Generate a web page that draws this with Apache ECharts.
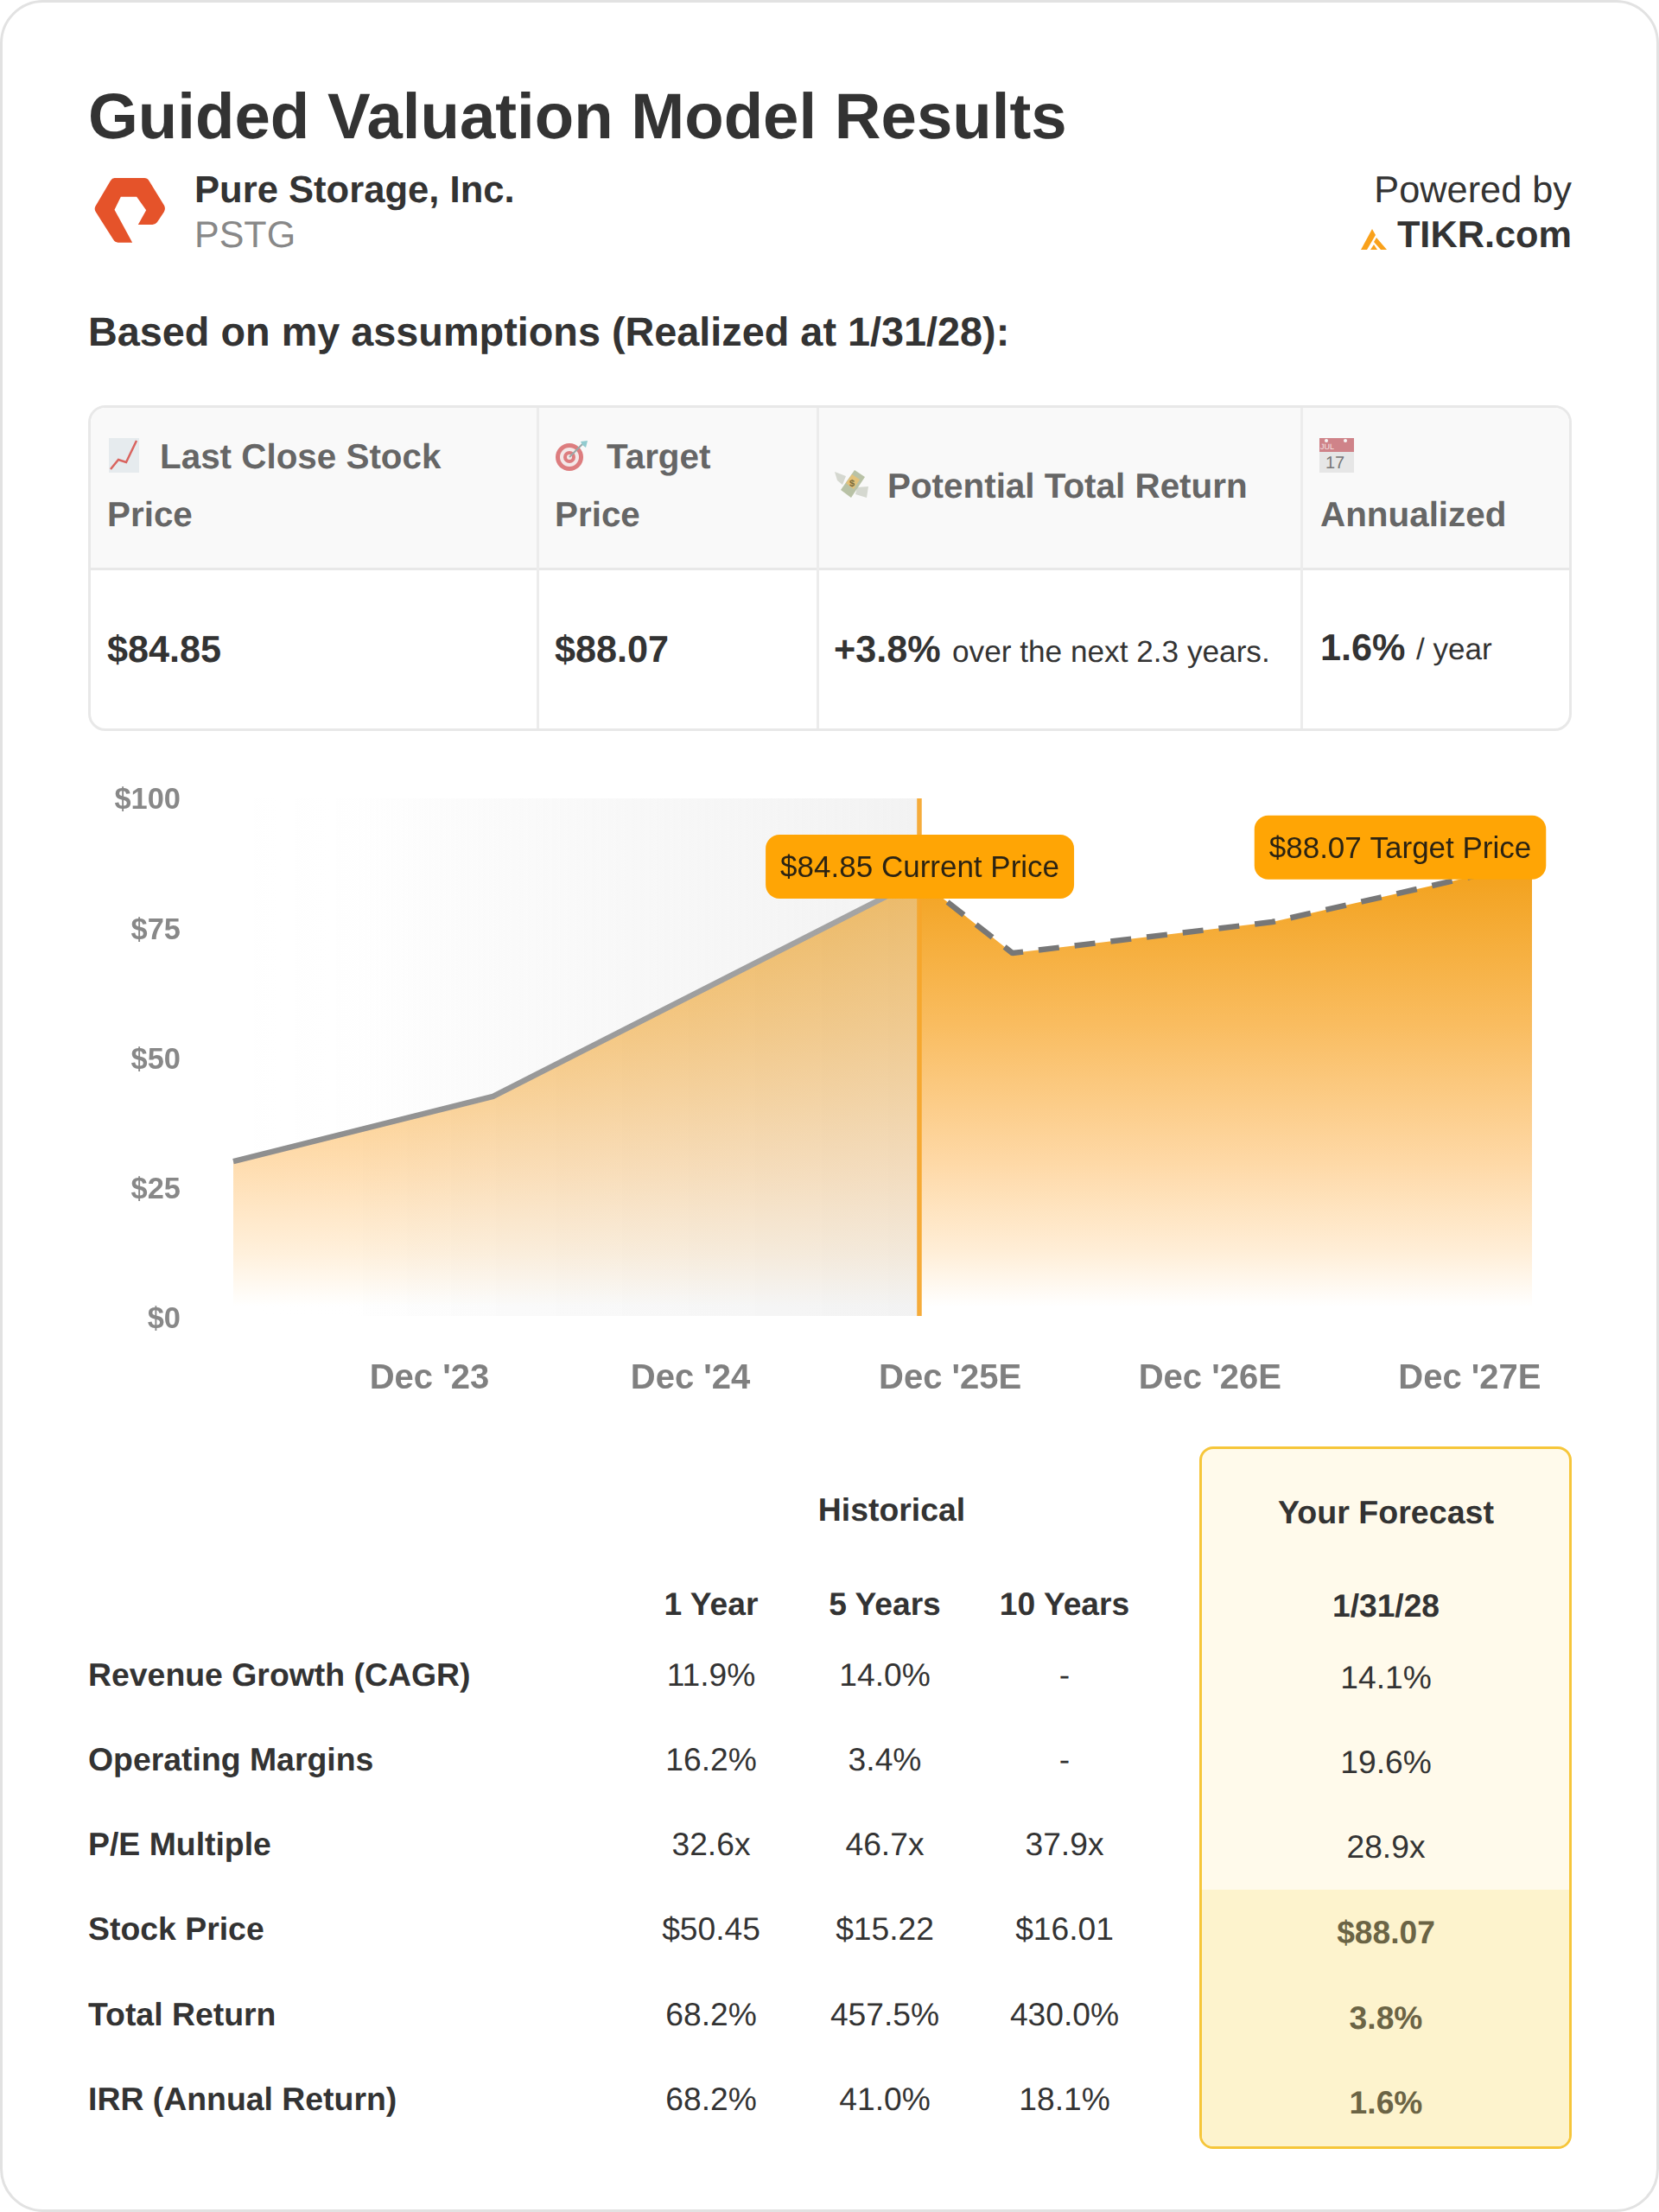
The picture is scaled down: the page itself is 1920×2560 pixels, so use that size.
<!DOCTYPE html>
<html>
<head>
<meta charset="utf-8">
<title>Guided Valuation Model Results</title>
<script src="https://cdn.jsdelivr.net/npm/echarts@6/dist/echarts.min.js"></script>
<style>
  html, body { margin: 0; padding: 0; background: #fff; }
  #page { position: relative; width: 1920px; height: 2560px; overflow: hidden;
          font-family: "Liberation Sans", Arial, sans-serif; color: #333;
          text-rendering: geometricPrecision; }
  #frame { position: absolute; left: 0; top: 0; width: 1914px; height: 2554px;
           border: 3px solid #e2e2e2; border-radius: 50px; }
  #main { position: absolute; left: 0; top: 900px; width: 1920px; height: 740px; }
  .t { position: absolute; white-space: nowrap; transform: translateY(-50%); }
  .c { transform: translate(-50%, -50%); }
  .r { transform: translate(-100%, -50%); }
  .b { font-weight: bold; }
  .box { position: absolute; box-sizing: border-box; }
  svg { position: absolute; display: block; }
</style>
</head>
<body>
<div id="page">
  <div id="frame"></div>

  <!-- summary table frame -->
  <div class="box" style="left:102px;top:469px;width:1717px;height:377px;border:3px solid #e8e8e8;border-radius:20px;overflow:hidden;">
    <div style="height:185px;background:#f9f9f9;border-bottom:3px solid #e8e8e8;"></div>
    <div class="box" style="left:516px;top:0;width:3px;height:100%;background:#ececec;"></div>
    <div class="box" style="left:840px;top:0;width:3px;height:100%;background:#ececec;"></div>
    <div class="box" style="left:1400px;top:0;width:3px;height:100%;background:#ececec;"></div>
  </div>

  <!-- forecast column -->
  <div class="box" style="left:1388px;top:1674px;width:431px;height:813px;border:3px solid #f6c63a;border-radius:16px;overflow:hidden;background:#fffaeb;">
    <div class="box" style="left:0;right:0;bottom:0;height:297px;background:#fdf3cd;"></div>
  </div>

  <!-- company logo -->
  <svg style="left:109px;top:206px" width="83" height="75" viewBox="58 78 248 225">
    <path fill="#e5532a" d="M128 78 H232 Q242 78 248 88 L301 174 Q306 185 300 196 L276 232 Q270 240 260 240 H210 L238 190 L205 143 H150 L128 188 L190 302 H140 Q130 302 124 292 L63 196 Q56 185 63 174 L114 88 Q120 78 128 78 Z"/>
  </svg>
  <!-- TIKR mark -->
  <svg style="left:1575px;top:265px" width="30" height="24" viewBox="0 0 30 24">
    <path fill="#f9a11b" d="M0 24 L13 0 L17 7 L7 24 Z M18 10 L30 24 H23 L15 15 Z M11 24 L15 18 L19 24 Z"/>
  </svg>

  <!-- header cell icons, drawn because no emoji font is installed -->
  <svg style="left:126px;top:507px" width="35" height="40" viewBox="0 0 35 40">
    <rect width="35" height="40" fill="#e6ebee"/>
    <polyline points="2,36 11,25 20,28 32,3" fill="none" stroke="#d9645f" stroke-width="2.5"/>
  </svg>
  <svg style="left:642px;top:508px;opacity:.85" width="40" height="38" viewBox="0 0 40 38">
    <circle cx="17" cy="21" r="16" fill="#d9686a"/><circle cx="17" cy="21" r="11" fill="#f3e6e6"/>
    <circle cx="17" cy="21" r="7" fill="#d9686a"/><circle cx="17" cy="21" r="3" fill="#f3e6e6"/>
    <path d="M17 21 L32 6" stroke="#8a9a9a" stroke-width="2"/><path d="M30 3 L38 2 L36 10 L32 7 Z" fill="#7fc4c8"/>
  </svg>
  <svg style="left:966px;top:543px" width="39" height="35" viewBox="0 0 39 35">
    <path d="M0 3 L13 8 L9 18 L3 13 Z M26 21 L39 20 L37 33 L24 29 Z" fill="#d5d8d0"/>
    <path d="M7 24 L23 1 L35 9 L19 33 Z" fill="#b9c2a6"/>
    <path d="M13 16 L20 6 L29 12 L22 23 Z" fill="#e3c27a"/>
    <text x="17" y="20" font-size="11" font-weight="bold" fill="#7a6a3a">$</text>
  </svg>
  <svg style="left:1527px;top:507px" width="40" height="40" viewBox="0 0 40 40">
    <rect width="40" height="40" fill="#e6e6e6"/><rect width="40" height="16" fill="#cf8389"/>
    <text x="1" y="13" font-size="9" fill="#f5e6e6">JUL</text>
    <circle cx="8" cy="3" r="2" fill="#f5f5f5"/><circle cx="30" cy="3" r="2" fill="#f5f5f5"/>
    <text x="7" y="35" font-size="20" fill="#777">17</text>
  </svg>

  <div id="main"></div>
  <div id="texts"></div>
</div>

<script type="text/javascript">
// chart data, x is a decimal year
var histX = [2023.08, 2024.08, 2025.72];
var histY = [30.6, 43.1, 84.85];
var fcstX = [2025.72, 2026.08, 2027.08, 2028.08];
var fcstY = [84.85, 70.7, 76.7, 88.07];
var yTicks = [0, 25, 50, 75, 100];
var xTicks = [2023.835, 2024.84, 2025.84, 2026.84, 2027.84];
var xTickLabels = ["Dec '23", "Dec '24", "Dec '25E", "Dec '26E", "Dec '27E"];
var currentLabel = '$84.85 Current Price';
var targetLabel = '$88.07 Target Price';

// table data
var rowNames = ['Revenue Growth (CAGR)', 'Operating Margins', 'P/E Multiple', 'Stock Price', 'Total Return', 'IRR (Annual Return)'];
var histCols = ['1 Year', '5 Years', '10 Years'];
var hist1y = ['11.9%', '16.2%', '32.6x', '$50.45', '68.2%', '68.2%'];
var hist5y = ['14.0%', '3.4%', '46.7x', '$15.22', '457.5%', '41.0%'];
var hist10y = ['-', '-', '37.9x', '$16.01', '430.0%', '18.1%'];
var forecast = ['14.1%', '19.6%', '28.9x', '$88.07', '3.8%', '1.6%'];

var box = document.getElementById('texts');
function put(text, x, y, size, cls, color) {
    var d = document.createElement('div');
    d.className = 't ' + (cls || '');
    d.style.left = x + 'px';
    d.style.top = y + 'px';
    d.style.fontSize = size + 'px';
    if (color) d.style.color = color;
    d.textContent = text;
    box.appendChild(d);
    return d;
}

put('Guided Valuation Model Results', 102, 134, 74.4, 'b');
put('Pure Storage, Inc.', 225, 220, 43.6, 'b');
put('PSTG', 225, 272, 43, '', '#888');
put('Powered by', 1819, 220, 43.3, 'r');
put('TIKR.com', 1819, 272, 43.3, 'r b');
put('Based on my assumptions (Realized at 1/31/28):', 102, 384, 46.8, 'b');

// summary table
put('Last Close Stock', 185, 528, 40.4, 'b', '#666');
put('Price', 124, 595, 40.4, 'b', '#666');
put('Target', 702, 528, 40.4, 'b', '#666');
put('Price', 642, 595, 40.4, 'b', '#666');
put('Potential Total Return', 1027, 562, 40.4, 'b', '#666');
put('Annualized', 1528, 595, 40.4, 'b', '#666');
put('$84.85', 124, 752, 43.2, 'b');
put('$88.07', 642, 752, 43.2, 'b');
put('+3.8%', 965, 752, 43.2, 'b');
put('over the next 2.3 years.', 1102, 755, 35.2);
put('1.6%', 1528, 750, 43.2, 'b');
put('/ year', 1639, 752, 35);

// model table
var colX = [823, 1024, 1232];
var rowY = [1938, 2036, 2134, 2232, 2331, 2429];
var fcstRowY = [1940.5, 2038.5, 2136.5, 2235.5, 2334.5, 2432.5];
var i;
put('Historical', 1032, 1746.5, 37.4, 'c b');
put('Your Forecast', 1604, 1750, 37.6, 'c b');
put('1/31/28', 1604, 1857.5, 37.2, 'c b');
for (i = 0; i < histCols.length; i++) put(histCols[i], colX[i], 1855.5, 37.2, 'c b');
for (i = 0; i < rowNames.length; i++) {
    put(rowNames[i], 102, rowY[i], 37.4, 'b');
    put(hist1y[i], colX[0], rowY[i], 37.2, 'c');
    put(hist5y[i], colX[1], rowY[i], 37.2, 'c');
    put(hist10y[i], colX[2], rowY[i], 37.2, 'c');
    if (i < 3) put(forecast[i], 1604, fcstRowY[i], 37.2, 'c');
    else put(forecast[i], 1604, fcstRowY[i], 37.2, 'c b', '#6b6445');
}

function pairs(xs, ys) {
    var out = [];
    for (var k = 0; k < xs.length; k++) out.push([xs[k], ys[k]]);
    return out;
}
function orangeFade() {
    return { type: 'linear', x: 0, y: 0, x2: 0, y2: 1, colorStops: [
        { offset: 0, color: '#f2a019' },
        { offset: 0.35, color: '#f9bc5f' },
        { offset: 0.65, color: '#fed8a5' },
        { offset: 0.85, color: '#ffeed7' },
        { offset: 0.97, color: '#ffffff' }
    ] };
}
// text sits a little low in the pill, only a rich token padding can do that
var labelBase = {
    show: true, position: 'inside', backgroundColor: '#ffa505', borderRadius: 16, padding: [14, 17, 14, 17],
    rich: { t: { color: '#2b2313', fontSize: 35, fontFamily: 'Liberation Sans', lineHeight: 46, padding: [5, 0, 0, 0] } }
};

var myChart = echarts.init(document.getElementById('main'), null, { renderer: 'canvas' });
myChart.setOption({
    animation: false,
    grid: { left: 270, right: 147, top: 24, bottom: 112 },
    xAxis: {
        type: 'value', min: 2023.08, max: 2028.08,
        splitLine: { show: false }, axisLine: { show: false }, axisTick: { show: false },
        axisLabel: {
            customValues: xTicks, margin: 48, color: '#808080', fontSize: 40, fontWeight: 'bold',
            fontFamily: 'Liberation Sans',
            formatter: function (v) { return xTickLabels[xTicks.indexOf(v)]; }
        }
    },
    yAxis: {
        type: 'value', min: 0, max: 100.5,
        splitLine: { show: false }, axisLine: { show: false }, axisTick: { show: false },
        axisLabel: {
            customValues: yTicks, margin: 61, color: '#888', fontSize: 34.4, fontWeight: 'bold',
            fontFamily: 'Liberation Sans',
            formatter: function (v) { return '$' + v; }
        }
    },
    series: [
        {
            type: 'line', z: 2, data: pairs(histX, histY), symbol: 'none',
            lineStyle: { color: '#8f8f8f', width: 6.5, join: 'miter' },
            areaStyle: { color: orangeFade(), opacity: 0.88 },
            markArea: {
                silent: true, z: 3,
                itemStyle: { color: { type: 'linear', x: 0, y: 0, x2: 1, y2: 0, colorStops: [
                    { offset: 0, color: 'rgba(216,216,216,0)' },
                    { offset: 0.18, color: 'rgba(216,216,216,0.01)' },
                    { offset: 0.4, color: 'rgba(216,216,216,0.12)' },
                    { offset: 1, color: 'rgba(216,216,216,0.32)' }
                ] } },
                data: [[{ xAxis: histX[0], yAxis: 100.5 }, { xAxis: histX[2], yAxis: 0.83 }]]
            },
            markLine: {
                silent: true, symbol: 'none', z: 4, label: { show: false },
                lineStyle: { color: '#f5a52a', width: 5.5, type: 'solid', opacity: 0.92 },
                data: [[{ xAxis: histX[2], yAxis: 100.5 }, { xAxis: histX[2], yAxis: 0.83 }]]
            }
        },
        {
            type: 'line', z: 2, data: pairs(fcstX, fcstY), symbol: 'none',
            lineStyle: { color: '#777', width: 6.5, type: [24, 18] },
            areaStyle: { color: orangeFade(), opacity: 1 },
            markPoint: {
                silent: true, z: 10,
                data: [
                    {
                        coord: [fcstX[0], fcstY[0]], symbol: 'circle', symbolSize: 32,
                        itemStyle: { color: '#ffa505' },
                        label: Object.assign({}, labelBase, { formatter: '{t|' + currentLabel + '}', offset: [1, -15] })
                    },
                    {
                        coord: [fcstX[3], fcstY[3]], symbol: 'circle', symbolSize: 32,
                        itemStyle: { color: '#ffa505' },
                        label: Object.assign({}, labelBase, { formatter: '{t|' + targetLabel + '}', offset: [-152.5, -18] })
                    }
                ]
            }
        }
    ]
});
</script>
</body>
</html>
